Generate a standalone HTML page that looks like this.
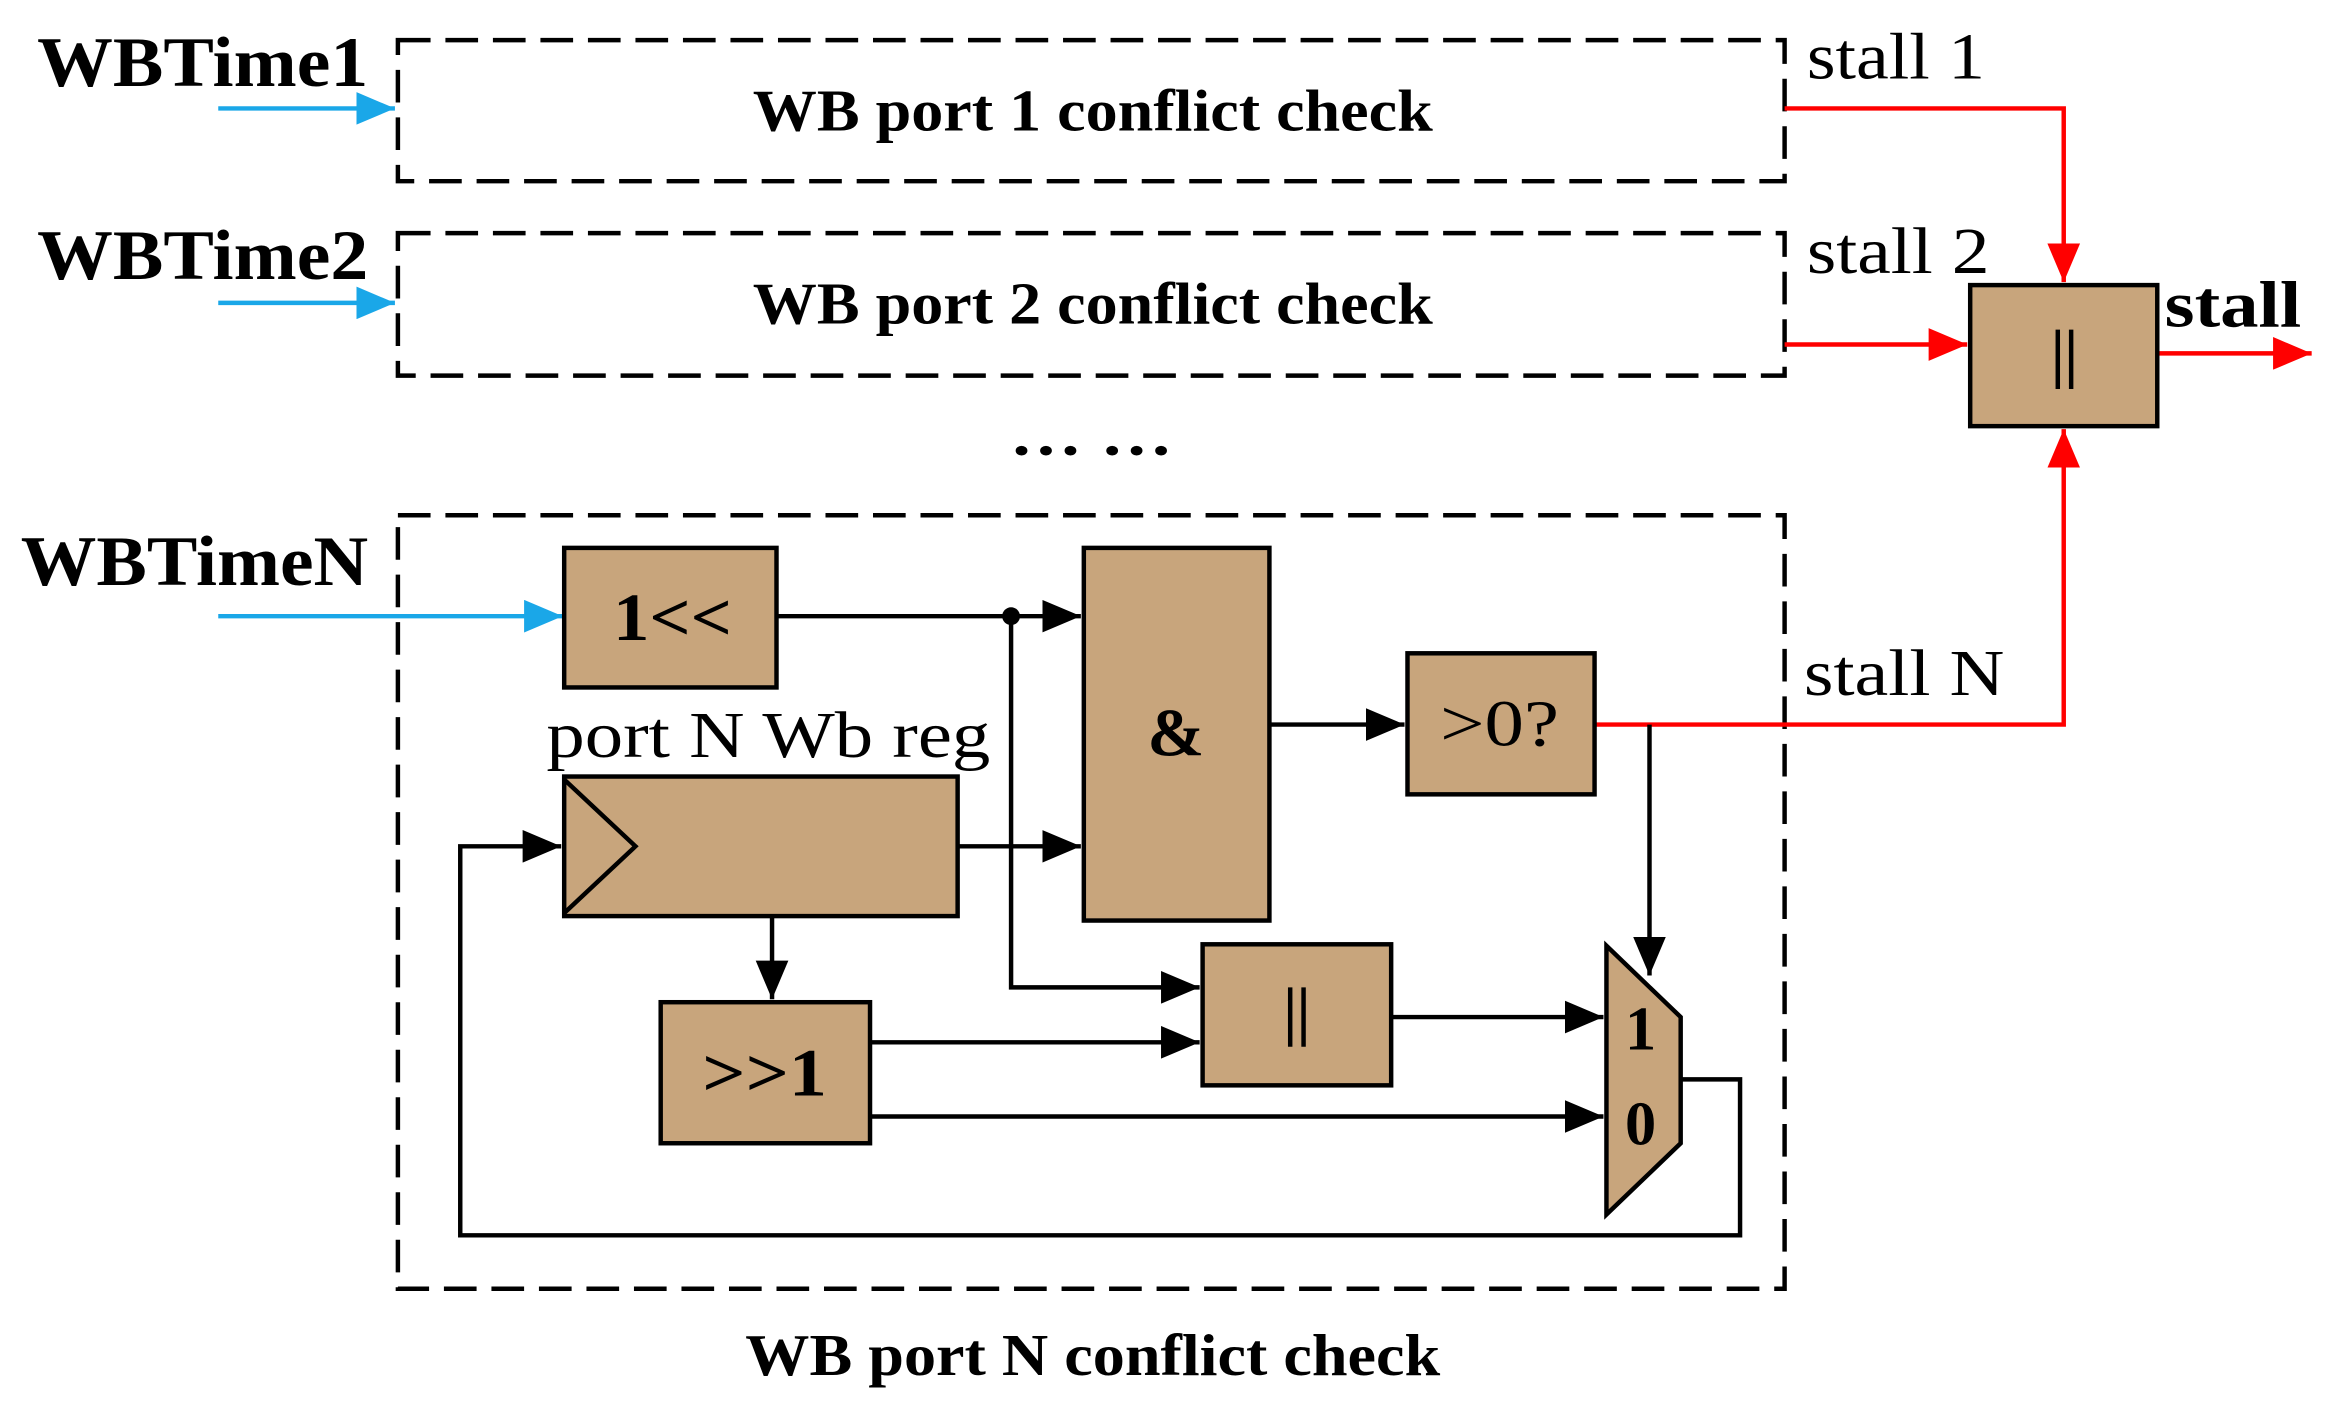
<!DOCTYPE html>
<html><head><meta charset="utf-8"><style>html,body{margin:0;padding:0;background:#fff}svg{display:block}</style></head>
<body>
<svg width="2328" height="1404" viewBox="0 0 1568 945.6" xmlns="http://www.w3.org/2000/svg" font-family="'Liberation Serif', serif">
<defs>
<marker id="ak" markerWidth="26" markerHeight="22" refX="26" refY="11" orient="auto" markerUnits="userSpaceOnUse"><path d="M0,0 L26,11 L0,22z" fill="#000"/></marker>
<marker id="ar" markerWidth="26" markerHeight="22" refX="26" refY="11" orient="auto" markerUnits="userSpaceOnUse"><path d="M0,0 L26,11 L0,22z" fill="#f00"/></marker>
<marker id="au" markerWidth="26" markerHeight="22" refX="26" refY="11" orient="auto" markerUnits="userSpaceOnUse"><path d="M0,0 L26,11 L0,22z" fill="#1aa7e8"/></marker>
</defs>
<g fill="none" stroke="#000" stroke-width="3" stroke-dasharray="22,10">
<rect x="268" y="27" width="934" height="95"/>
<rect x="268" y="157" width="934" height="96"/>
<rect x="268" y="347" width="934" height="521"/>
</g>
<g font-weight="bold" font-size="40" lengthAdjust="spacingAndGlyphs">
<text x="507" y="88" textLength="458" lengthAdjust="spacingAndGlyphs">WB port 1 conflict check</text>
<text x="507" y="218" textLength="458" lengthAdjust="spacingAndGlyphs">WB port 2 conflict check</text>
<text x="502" y="926" textLength="468" lengthAdjust="spacingAndGlyphs">WB port N conflict check</text>
<text x="680" y="306" textLength="110" lengthAdjust="spacingAndGlyphs">… …</text>
</g>
<g font-weight="bold" font-size="48">
<text x="25" y="58" textLength="223" lengthAdjust="spacingAndGlyphs">WBTime1</text>
<text x="25" y="188" textLength="223" lengthAdjust="spacingAndGlyphs">WBTime2</text>
<text x="14" y="394" textLength="234" lengthAdjust="spacingAndGlyphs">WBTimeN</text>
<text x="1458" y="220" font-size="44" textLength="92" lengthAdjust="spacingAndGlyphs">stall</text>
</g>
<g font-size="44">
<text x="1217" y="53" textLength="120" lengthAdjust="spacingAndGlyphs">stall 1</text>
<text x="1217" y="184" textLength="123" lengthAdjust="spacingAndGlyphs">stall 2</text>
<text x="1215" y="468" textLength="135" lengthAdjust="spacingAndGlyphs">stall N</text>
<text x="368" y="510" textLength="299" lengthAdjust="spacingAndGlyphs">port N Wb reg</text>
</g>
<g stroke="#1aa7e8" stroke-width="3" fill="none">
<line x1="147" y1="73" x2="266" y2="73" marker-end="url(#au)"/>
<line x1="147" y1="204" x2="266" y2="204" marker-end="url(#au)"/>
<line x1="147" y1="415" x2="379" y2="415" marker-end="url(#au)"/>
</g>
<g stroke="#f00" stroke-width="3" fill="none">
<polyline points="1202,73 1390,73 1390,190" marker-end="url(#ar)"/>
<line x1="1202" y1="232" x2="1325" y2="232" marker-end="url(#ar)"/>
<polyline points="1075,488 1390,488 1390,289" marker-end="url(#ar)"/>
<line x1="1453" y1="238" x2="1557" y2="238" marker-end="url(#ar)"/>
</g>
<g fill="#c8a57c" stroke="#000" stroke-width="3">
<rect x="1327" y="192" width="126" height="95"/>
<rect x="380" y="369" width="143" height="94"/>
<rect x="730" y="369" width="125" height="251"/>
<rect x="948" y="440" width="126" height="95"/>
<rect x="380" y="523" width="265" height="94"/>
<rect x="445" y="675" width="141" height="95"/>
<rect x="810" y="636" width="127" height="95"/>
<polygon points="1082,637 1132,685 1132,770 1082,818"/>
</g>
<polyline points="380,525 428,570 380,615" fill="none" stroke="#000" stroke-width="3"/>
<g stroke="#000" stroke-width="3" fill="none">
<line x1="523" y1="415" x2="728" y2="415" marker-end="url(#ak)"/>
<polyline points="681,415 681,665 808,665" marker-end="url(#ak)"/>
<line x1="855" y1="488" x2="946" y2="488" marker-end="url(#ak)"/>
<line x1="645" y1="570" x2="728" y2="570" marker-end="url(#ak)"/>
<line x1="520" y1="617" x2="520" y2="673" marker-end="url(#ak)"/>
<line x1="586" y1="702" x2="808" y2="702" marker-end="url(#ak)"/>
<line x1="586" y1="752" x2="1080" y2="752" marker-end="url(#ak)"/>
<line x1="937" y1="685" x2="1080" y2="685" marker-end="url(#ak)"/>
<line x1="1111" y1="488" x2="1111" y2="657" marker-end="url(#ak)"/>
<polyline points="1132,727 1172,727 1172,832 310,832 310,570 378,570" marker-end="url(#ak)"/>
</g>
<circle cx="681" cy="415" r="6" fill="#000"/>
<g font-weight="bold" font-size="46">
<text x="413" y="431" textLength="80" lengthAdjust="spacingAndGlyphs">1&lt;&lt;</text>
<text x="792" y="509" text-anchor="middle">&amp;</text>
<text x="970" y="502" font-weight="normal" font-size="44" textLength="80" lengthAdjust="spacingAndGlyphs">&gt;0?</text>
<text x="473" y="738" textLength="84" lengthAdjust="spacingAndGlyphs">&gt;&gt;1</text>
<text x="1105" y="707" font-size="42" text-anchor="middle">1</text>
<text x="1105" y="771" font-size="42" text-anchor="middle">0</text>
</g>
<g stroke="#000" stroke-width="3">
<line x1="1386" y1="222" x2="1386" y2="262"/><line x1="1395" y1="222" x2="1395" y2="262"/>
<line x1="869" y1="665" x2="869" y2="705"/><line x1="878" y1="665" x2="878" y2="705"/>
</g>
</svg>
</body></html>
